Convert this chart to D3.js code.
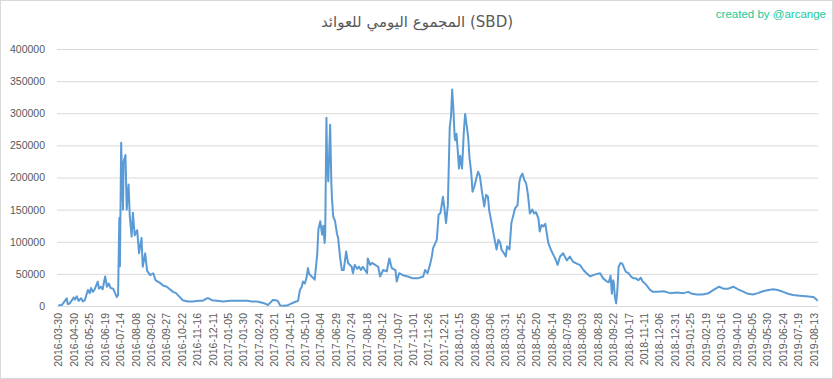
<!DOCTYPE html>
<html>
<head>
<meta charset="utf-8">
<script src="https://cdn.jsdelivr.net/npm/d3@7"></script>
<style>
  body { margin: 0; background: #fff; }
  svg { display: block; font-family: "Liberation Sans", Arial, sans-serif; }
  .y-axis text, .x-axis text { fill: #595959; font-size: 10.5px; }
  .y-axis line { stroke: #d9d9d9; }
  .y-axis path, .x-axis path { display: none; }
  .x-axis line { display: none; }
</style>
</head>
<body>
<svg></svg>
<script>
const titleText = "المجموع اليومي للعوائد  (SBD)"
const creditText = "created by @arcange"

const yTicks = [0, 50000, 100000, 150000, 200000, 250000, 300000, 350000, 400000]

const xTickLabels = [
  "2016-03-30", "2016-04-30", "2016-05-25", "2016-06-19", "2016-07-14", "2016-08-08",
  "2016-09-02", "2016-09-27", "2016-10-22", "2016-11-16", "2016-12-11", "2017-01-05",
  "2017-01-30", "2017-02-24", "2017-03-21", "2017-04-15", "2017-05-10", "2017-06-04",
  "2017-06-29", "2017-07-24", "2017-08-18", "2017-09-12", "2017-10-07", "2017-11-01",
  "2017-11-26", "2017-12-21", "2018-01-15", "2018-02-09", "2018-03-06", "2018-03-31",
  "2018-04-25", "2018-05-20", "2018-06-14", "2018-07-09", "2018-08-03", "2018-08-28",
  "2018-09-22", "2018-10-17", "2018-11-11", "2018-12-06", "2018-12-31", "2019-01-25",
  "2019-02-19", "2019-03-16", "2019-04-10", "2019-05-05", "2019-05-30", "2019-06-24",
  "2019-07-19", "2019-08-13"
]

// daily total rewards
const dates = [
  "2016-03-30", "2016-04-06", "2016-04-16", "2016-04-18", "2016-04-22", "2016-04-30",
  "2016-05-02", "2016-05-05", "2016-05-08", "2016-05-12", "2016-05-15", "2016-05-18",
  "2016-05-23", "2016-05-26", "2016-05-28", "2016-05-31", "2016-06-03", "2016-06-08",
  "2016-06-10", "2016-06-13", "2016-06-16", "2016-06-20", "2016-06-23", "2016-06-26",
  "2016-06-29", "2016-07-03", "2016-07-06", "2016-07-09", "2016-07-11", "2016-07-13",
  "2016-07-14", "2016-07-16", "2016-07-17", "2016-07-19", "2016-07-20", "2016-07-23",
  "2016-07-25", "2016-07-28", "2016-07-30", "2016-08-02", "2016-08-04", "2016-08-07",
  "2016-08-11", "2016-08-14", "2016-08-18", "2016-08-20", "2016-08-24", "2016-08-27",
  "2016-09-01", "2016-09-06", "2016-09-10", "2016-09-17", "2016-09-22", "2016-09-28",
  "2016-10-03", "2016-10-08", "2016-10-13", "2016-10-18", "2016-10-24", "2016-11-01",
  "2016-11-09", "2016-11-19", "2016-11-25", "2016-12-02", "2016-12-05", "2016-12-10",
  "2016-12-19", "2016-12-28", "2017-01-09", "2017-01-20", "2017-01-30", "2017-02-05",
  "2017-02-13", "2017-02-21", "2017-03-02", "2017-03-06", "2017-03-11", "2017-03-16",
  "2017-03-19", "2017-03-24", "2017-03-27", "2017-03-31", "2017-04-06", "2017-04-11",
  "2017-04-16", "2017-04-21", "2017-04-26", "2017-04-29", "2017-05-02", "2017-05-05",
  "2017-05-07", "2017-05-10", "2017-05-13", "2017-05-15", "2017-05-17", "2017-05-21",
  "2017-05-26", "2017-05-30", "2017-06-01", "2017-06-04", "2017-06-07", "2017-06-09",
  "2017-06-11", "2017-06-12", "2017-06-14", "2017-06-15", "2017-06-17", "2017-06-20",
  "2017-06-22", "2017-06-23", "2017-06-25", "2017-06-28", "2017-07-01", "2017-07-03",
  "2017-07-06", "2017-07-09", "2017-07-12", "2017-07-16", "2017-07-19", "2017-07-25",
  "2017-07-27", "2017-07-30", "2017-08-03", "2017-08-06", "2017-08-09", "2017-08-12",
  "2017-08-19", "2017-08-20", "2017-08-24", "2017-08-27", "2017-09-01", "2017-09-06",
  "2017-09-09", "2017-09-14", "2017-09-20", "2017-09-24", "2017-09-28", "2017-10-04",
  "2017-10-06", "2017-10-10", "2017-10-16", "2017-10-24", "2017-11-01", "2017-11-09",
  "2017-11-18", "2017-11-21", "2017-11-25", "2017-11-29", "2017-12-02", "2017-12-04",
  "2017-12-10", "2017-12-13", "2017-12-16", "2017-12-20", "2017-12-22", "2017-12-25",
  "2017-12-28", "2017-12-31", "2018-01-02", "2018-01-04", "2018-01-06", "2018-01-08",
  "2018-01-09", "2018-01-11", "2018-01-13", "2018-01-15", "2018-01-17", "2018-01-20",
  "2018-01-23", "2018-01-25", "2018-01-28", "2018-01-30", "2018-02-01", "2018-02-04",
  "2018-02-06", "2018-02-09", "2018-02-12", "2018-02-15", "2018-02-18", "2018-02-21",
  "2018-02-25", "2018-02-28", "2018-03-03", "2018-03-05", "2018-03-09", "2018-03-12",
  "2018-03-15", "2018-03-17", "2018-03-20", "2018-03-23", "2018-03-25", "2018-03-29",
  "2018-04-01", "2018-04-03", "2018-04-07", "2018-04-10", "2018-04-16", "2018-04-20",
  "2018-04-23", "2018-04-25", "2018-04-28", "2018-05-01", "2018-05-04", "2018-05-07",
  "2018-05-10", "2018-05-14", "2018-05-17", "2018-05-20", "2018-05-24", "2018-05-26",
  "2018-05-29", "2018-06-01", "2018-06-04", "2018-06-06", "2018-06-09", "2018-06-13",
  "2018-06-17", "2018-06-21", "2018-06-24", "2018-06-28", "2018-07-03", "2018-07-09",
  "2018-07-14", "2018-07-19", "2018-07-25", "2018-07-30", "2018-08-05", "2018-08-10",
  "2018-08-16", "2018-08-21", "2018-08-27", "2018-09-01", "2018-09-06", "2018-09-12",
  "2018-09-15", "2018-09-18", "2018-09-20", "2018-09-22", "2018-09-23", "2018-09-25",
  "2018-09-27", "2018-09-29", "2018-10-01", "2018-10-04", "2018-10-07", "2018-10-10",
  "2018-10-13", "2018-10-17", "2018-10-21", "2018-10-25", "2018-10-29", "2018-11-02",
  "2018-11-06", "2018-11-09", "2018-11-13", "2018-11-17", "2018-11-21", "2018-11-26",
  "2018-12-03", "2018-12-13", "2018-12-24", "2019-01-04", "2019-01-14", "2019-01-22",
  "2019-01-28", "2019-02-05", "2019-02-14", "2019-02-24", "2019-03-04", "2019-03-13",
  "2019-03-20", "2019-03-28", "2019-04-05", "2019-04-13", "2019-04-22", "2019-04-29",
  "2019-05-07", "2019-05-15", "2019-05-23", "2019-06-01", "2019-06-09", "2019-06-16",
  "2019-06-25", "2019-07-03", "2019-07-11", "2019-07-22", "2019-08-01", "2019-08-13",
  "2019-08-17", "2019-08-20"
]

const rewards = [
  1000, 1500, 12000, 3000, 4000, 13000,
  10000, 15000, 8000, 12000, 7000, 9000,
  25000, 20000, 28000, 22000, 26000, 38000,
  27000, 30000, 26000, 46000, 30000, 35000,
  28000, 27000, 20000, 14000, 17000, 137000,
  62000, 254000, 215000, 150000, 225000, 235000,
  150000, 189000, 139000, 108000, 145000, 110000,
  118000, 82000, 106000, 61000, 82000, 55000,
  48000, 51000, 40000, 36000, 32000, 30000,
  26000, 22000, 20000, 15000, 9000, 7000,
  7000, 8000, 8000, 12000, 12000, 9000,
  8000, 7000, 8000, 8000, 8000, 8000,
  7000, 7000, 5000, 4000, 1500, 6000,
  9500, 9000, 8000, 800, 500, 700,
  3000, 5000, 7000, 8000, 25000, 30000,
  38000, 35000, 45000, 59000, 50000, 46000,
  41000, 80000, 119000, 132000, 111000, 125000,
  98000, 110000, 293000, 228000, 194000, 282000,
  191000, 168000, 139000, 132000, 113000, 106000,
  77000, 56000, 56000, 85000, 67000, 61000,
  51000, 64000, 58000, 61000, 56000, 61000,
  51000, 74000, 64000, 67000, 64000, 61000,
  46000, 56000, 54000, 74000, 59000, 56000,
  38000, 51000, 48000, 46000, 43000, 43000,
  46000, 56000, 51000, 64000, 77000, 90000,
  103000, 142000, 145000, 170000, 155000, 129000,
  157000, 278000, 294000, 337000, 306000, 263000,
  258000, 268000, 242000, 214000, 234000, 214000,
  273000, 299000, 278000, 262000, 232000, 206000,
  178000, 186000, 198000, 209000, 202000, 180000,
  155000, 173000, 170000, 149000, 129000, 113000,
  98000, 88000, 103000, 98000, 88000, 82000,
  77000, 93000, 88000, 129000, 152000, 157000,
  193000, 201000, 206000, 196000, 191000, 173000,
  144000, 150000, 144000, 146000, 136000, 116000,
  126000, 124000, 128000, 116000, 98000, 88000,
  80000, 72000, 64000, 77000, 82000, 71000,
  77000, 69000, 66000, 64000, 56000, 51000,
  46000, 48000, 50000, 51000, 43000, 38000,
  37000, 47000, 19000, 40000, 38000, 14000,
  4000, 25000, 61000, 67000, 66000, 59000,
  53000, 51000, 46000, 43000, 43000, 40000,
  44000, 38000, 35000, 30000, 25000, 22000,
  22000, 23000, 20000, 21000, 20000, 22000,
  19000, 18000, 18000, 20000, 25000, 30000,
  27000, 27000, 30000, 26000, 22000, 19000,
  18000, 20000, 23000, 25000, 26000, 25000,
  22000, 19000, 17000, 16000, 15000, 14000,
  11000, 8000
]

const width = 833
const height = 379
const plotLeft = 57
const plotRight = 818
const plotTop = 49
const plotBottom = 306

const parse = d3.timeParse("%Y-%m-%d")

const data = dates.map((d, i) => { return { date: parse(d), value: rewards[i] } })
const tickDates = xTickLabels.map((d) => parse(d))

const svg = d3.select("svg")

svg
  .attr("width", width)
  .attr("height", height)

svg
  .append("rect")
  .attr("x", 0.5)
  .attr("y", 0.5)
  .attr("width", width - 1)
  .attr("height", height - 1)
  .attr("fill", "#fff")
  .attr("stroke", "#d9d9d9")

// category axis: first gap is 31 days, then every label is 25 days apart
const scaleX = d3.scaleTime()
  .domain([tickDates[0], tickDates[1], tickDates[tickDates.length - 1]])
  .range([58.3, 73.7, 813.4])

const scaleY = d3.scaleLinear()
  .domain([0, 400000])
  .range([plotBottom, plotTop])

const axisY = d3.axisLeft(scaleY)
  .tickValues(yTicks)
  .tickSizeInner(-(plotRight - plotLeft))
  .tickSizeOuter(0)
  .tickPadding(12)
  .tickFormat(d3.format("d"))

svg
  .append("g")
  .attr("class", "y-axis")
  .attr("transform", `translate(${plotLeft}, 0)`)
  .call(axisY)

const axisX = d3.axisBottom(scaleX)
  .tickValues(tickDates)
  .tickSize(0)
  .tickFormat(d3.timeFormat("%Y-%m-%d"))

const xGroup = svg
  .append("g")
  .attr("class", "x-axis")
  .attr("transform", `translate(0, ${plotBottom})`)
  .call(axisX)

xGroup
  .selectAll("text")
  .attr("text-anchor", "end")
  .attr("transform", "translate(0, 7) rotate(-90)")
  .attr("x", 0)
  .attr("y", 0)
  .attr("dy", "0.35em")

const line = d3.line()
  .x((d) => scaleX(d.date))
  .y((d) => scaleY(d.value))

svg
  .append("path")
  .datum(data)
  .attr("fill", "none")
  .attr("stroke", "#5b9bd5")
  .attr("stroke-width", 2)
  .attr("stroke-linejoin", "round")
  .attr("d", line)

svg
  .append("text")
  .attr("x", 417)
  .attr("y", 27)
  .attr("text-anchor", "middle")
  .attr("fill", "#595959")
  .style("font-family", "'DejaVu Sans', sans-serif")
  .style("font-size", "15px")
  .text(titleText)

svg
  .append("text")
  .attr("x", 826)
  .attr("y", 18)
  .attr("text-anchor", "end")
  .attr("fill", "#20c997")
  .style("font-size", "11.5px")
  .text(creditText)
</script>
</body>
</html>
